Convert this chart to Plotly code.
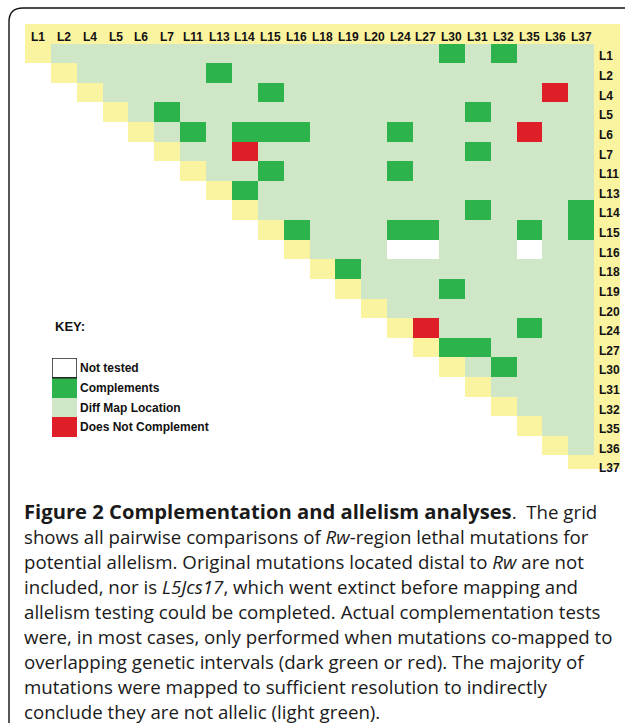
import plotly.graph_objects as go

# ---------------- data ----------------
labels = ["L1", "L2", "L4", "L5", "L6", "L7", "L11", "L13", "L14", "L15", "L16",
          "L18", "L19", "L20", "L24", "L27", "L30", "L31", "L32", "L35", "L36", "L37"]

complements = [("L1", "L30"), ("L1", "L32"), ("L2", "L13"), ("L4", "L15"),
               ("L5", "L7"), ("L5", "L31"), ("L6", "L11"), ("L6", "L14"),
               ("L6", "L15"), ("L6", "L16"), ("L6", "L24"), ("L7", "L31"),
               ("L11", "L15"), ("L11", "L24"), ("L13", "L14"), ("L14", "L31"),
               ("L14", "L37"), ("L15", "L16"), ("L15", "L24"), ("L15", "L27"),
               ("L15", "L35"), ("L15", "L37"), ("L18", "L19"), ("L19", "L30"),
               ("L24", "L35"), ("L27", "L30"), ("L27", "L31"), ("L30", "L32")]
does_not_complement = [("L4", "L36"), ("L6", "L35"), ("L7", "L14"), ("L24", "L27")]
not_tested = [("L16", "L24"), ("L16", "L27"), ("L16", "L35")]

key_labels = ["Not tested", "Complements", "Diff Map Location", "Does Not Complement"]
# category codes: 0 not tested, 1 complements, 2 diff map location, 3 does not complement, 4 label/diagonal
cat_colors = ["#FFFFFF", "#2CB34B", "#CFE7C6", "#DE1F27", "#FAF3A0"]

caption_title = "Figure 2 Complementation and allelism analyses"
caption_lines = [
    ". The grid",
    "shows all pairwise comparisons of <i>Rw</i>-region lethal mutations for",
    "potential allelism. Original mutations located distal to <i>Rw</i> are not",
    "included, nor is <i>L5Jcs17</i>, which went extinct before mapping and",
    "allelism testing could be completed. Actual complementation tests",
    "were, in most cases, only performed when mutations co-mapped to",
    "overlapping genetic intervals (dark green or red). The majority of",
    "mutations were mapped to sufficient resolution to indirectly",
    "conclude they are not allelic (light green).",
]

# ---------------- build matrix ----------------
n = len(labels)
idx = {l: i for i, l in enumerate(labels)}
z = [[4] * (n + 1)]  # header row
for i in range(n):
    row = []
    for j in range(n):
        if j < i:
            row.append(None)
        elif j == i:
            row.append(4)
        else:
            row.append(2)
    row.append(4)  # label column
    z.append(row)
for code, pairs in ((1, complements), (3, does_not_complement), (0, not_tested)):
    for a, b in pairs:
        z[idx[a] + 1][idx[b]] = code

ncat = len(cat_colors)
colorscale = []
for k, c in enumerate(cat_colors):
    colorscale.append([k / ncat, c])
    colorscale.append([(k + 1) / ncat, c])

W, H = 625, 723
def px(x):
    return x / W
def py(y):
    return 1 - y / H

fig = go.Figure()
fig.add_trace(go.Heatmap(
    z=z, x=list(range(n + 1)), y=list(range(n + 1)),
    colorscale=colorscale, zmin=-0.5, zmax=ncat - 0.5, showscale=False,
    hoverinfo="skip", xaxis="x", yaxis="y"))

fig.add_trace(go.Heatmap(
    z=[[k] for k in range(len(key_labels))], x=[0], y=list(range(len(key_labels))),
    colorscale=colorscale, zmin=-0.5, zmax=ncat - 0.5, showscale=False,
    hoverinfo="skip", xaxis="x2", yaxis="y2"))

lab_font = dict(family="Arial, Liberation Sans, sans-serif", size=12, color="#111111", weight="bold")
annotations = []
for j, l in enumerate(labels):
    annotations.append(dict(x=j, y=0, xref="x", yref="y", text=l, showarrow=False,
                            font=lab_font, xanchor="center", yanchor="middle", yshift=-3))
    annotations.append(dict(x=n - 0.5, y=j + 1, xref="x", yref="y", text=l, showarrow=False,
                            font=lab_font, xanchor="left", yanchor="middle", xshift=3, yshift=-3))

annotations.append(dict(x=px(53), y=py(327), xref="paper", yref="paper", text="KEY:",
                        showarrow=False, xanchor="left", yanchor="middle",
                        font=dict(family="Arial, Liberation Sans, sans-serif", size=13,
                                  color="#111111", weight="bold")))

cap_font = dict(family="Open Sans, sans-serif", size=18.7, color="#1a1a1a")
for k, line in enumerate(caption_lines):
    if k == 0:
        line = (f"<span style='font-size:20.2px;font-weight:bold'>{caption_title}</span>"
                + line.replace(" The", "&nbsp; The"))
    annotations.append(dict(x=px(22), y=py(511 + k * 25.0), xref="paper", yref="paper",
                            text=line, showarrow=False, xanchor="left", yanchor="middle",
                            font=cap_font))

shapes = [
    dict(type="rect", xref="x2", yref="y2", x0=-0.5, x1=0.5, y0=-0.5, y1=0.5,
         line=dict(color="#222222", width=1.5)),
    dict(type="path", xref="paper", yref="paper",
         path=f"M {px(9)},{py(760)} L {px(9)},{py(22)} Q {px(9)},{py(8)} {px(23)},{py(8)} L {px(650)},{py(8)}",
         line=dict(color="#111111", width=1.4)),
]

fig.update_layout(
    width=W, height=H, margin=dict(l=0, r=0, t=0, b=0),
    paper_bgcolor="white", plot_bgcolor="rgba(0,0,0,0)",
    xaxis=dict(domain=[px(25), px(620)], range=[-0.5, n + 0.5], visible=False, fixedrange=True),
    yaxis=dict(domain=[py(469), py(24)], range=[n + 0.18, -0.5], visible=False, fixedrange=True),
    xaxis2=dict(domain=[px(52), px(77)], range=[-0.5, 0.5], visible=False, anchor="y2"),
    yaxis2=dict(domain=[py(437), py(358)], range=[len(key_labels) - 0.5, -0.5], anchor="x2",
                side="right", tickvals=list(range(len(key_labels))), ticktext=key_labels,
                showgrid=False, zeroline=False, showline=False, ticks="", ticklabelstandoff=2,
                tickfont=dict(family="Arial, Liberation Sans, sans-serif", size=12,
                              color="#111111", weight="bold")),
    annotations=annotations, shapes=shapes, showlegend=False,
)

fig.write_html("out.html", config={"displayModeBar": False},
               post_script="document.body.style.margin='0px';document.body.style.overflow='hidden';")
